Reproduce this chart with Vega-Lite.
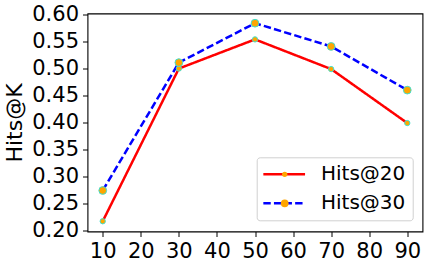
{
  "$schema": "https://vega.github.io/schema/vega-lite/v6.json",
  "width": 335,
  "height": 218,
  "autosize": {"type": "none"},
  "padding": {"left": 87.5, "top": 13.5, "right": 6.5, "bottom": 33.5},
  "background": "white",
  "config": {"view": {"stroke": "black", "strokeWidth": 1.1}, "font": "DejaVu Sans"},
  "data": {
    "values": [
      {"k": 10, "hits": 0.217, "series": "Hits@20"},
      {"k": 30, "hits": 0.500, "series": "Hits@20"},
      {"k": 50, "hits": 0.554, "series": "Hits@20"},
      {"k": 70, "hits": 0.499, "series": "Hits@20"},
      {"k": 90, "hits": 0.399, "series": "Hits@20"},
      {"k": 10, "hits": 0.274, "series": "Hits@30"},
      {"k": 30, "hits": 0.511, "series": "Hits@30"},
      {"k": 50, "hits": 0.584, "series": "Hits@30"},
      {"k": 70, "hits": 0.541, "series": "Hits@30"},
      {"k": 90, "hits": 0.460, "series": "Hits@30"}
    ]
  },
  "encoding": {
    "x": {
      "field": "k", "type": "quantitative",
      "scale": {"domain": [6, 94], "nice": false, "zero": false},
      "axis": {"values": [10, 20, 30, 40, 50, 60, 70, 80, 90], "title": null, "grid": false, "domain": false,
        "tickSize": 5, "tickColor": "black", "tickWidth": 1, "labelFontSize": 21, "labelColor": "black",
        "labelFont": "DejaVu Sans", "labelPadding": 4, "labelFlush": false, "labelOverlap": false}
    },
    "y": {
      "field": "hits", "type": "quantitative",
      "scale": {"domain": [0.198, 0.602], "nice": false, "zero": false},
      "axis": {"values": [0.2, 0.25, 0.3, 0.35, 0.4, 0.45, 0.5, 0.55, 0.6], "format": ".2f", "title": "Hits@K",
        "titleFontSize": 22, "titleFontWeight": "normal", "titleColor": "black", "titleFont": "DejaVu Sans", "titlePadding": 5,
        "grid": false, "domain": false, "tickSize": 5, "tickColor": "black", "tickWidth": 1,
        "labelFontSize": 21, "labelColor": "black", "labelFont": "DejaVu Sans", "labelPadding": 4, "labelFlush": false, "labelOverlap": false}
    }
  },
  "layer": [
    {
      "mark": {"type": "line", "strokeWidth": 2.5},
      "encoding": {
        "color": {"field": "series", "type": "nominal", "scale": {"range": ["#ff0000", "#0000ff"]},
          "legend": {"title": null, "orient": "none", "legendX": 169.2, "legendY": 143.8, "padding": 7,
            "strokeColor": "#d0d0d0", "cornerRadius": 3, "labelFontSize": 20, "labelFont": "DejaVu Sans",
            "labelColor": "black", "labelLimit": 200, "rowPadding": 9, "symbolType": "M-2.98,0H2.98",
            "symbolSize": 196, "symbolStrokeWidth": 2.5, "symbolOffset": 10.5, "labelOffset": 26.8}},
        "strokeDash": {"field": "series", "type": "nominal", "scale": {"range": [[1, 0], [7.4, 3.2]]},
          "legend": {"title": null, "orient": "none", "legendX": 169.2, "legendY": 143.8, "padding": 7,
            "strokeColor": "#d0d0d0", "cornerRadius": 3, "labelFontSize": 20, "labelFont": "DejaVu Sans",
            "labelColor": "black", "labelLimit": 200, "rowPadding": 9, "symbolType": "M-2.98,0H2.98",
            "symbolSize": 196, "symbolStrokeWidth": 2.5, "symbolOffset": 10.5, "labelOffset": 26.8}}
      }
    },
    {
      "mark": {"type": "point", "filled": true, "fill": "#ffa500", "stroke": "#40e0d0", "strokeWidth": 1, "opacity": 1},
      "encoding": {
        "size": {"field": "series", "type": "ordinal", "scale": {"domain": ["Hits@20", "Hits@30"], "range": [28, 60]},
          "legend": {"title": null, "orient": "none", "legendX": 169.2, "legendY": 143.8, "padding": 7,
            "labelFontSize": 20, "labelFont": "DejaVu Sans", "labelExpr": "''", "labelLimit": 200, "rowPadding": 9,
            "symbolType": "circle", "symbolFillColor": "#ffa500", "symbolStrokeColor": "#40e0d0",
            "symbolStrokeWidth": 1, "symbolOpacity": 1, "symbolOffset": 11}}
      }
    }
  ]
}
